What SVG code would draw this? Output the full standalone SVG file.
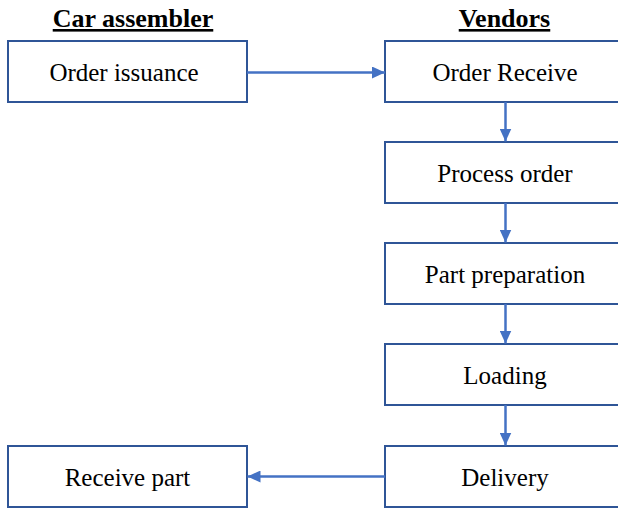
<svg xmlns="http://www.w3.org/2000/svg" width="618" height="508" viewBox="0 0 618 508">
<style>
.box{fill:#fff;stroke:#2F5597;stroke-width:2}
.lbl{font-family:"Liberation Serif","Times New Roman",serif;font-size:25px;fill:#000;text-anchor:middle}
.hdr{font-family:"Liberation Serif","Times New Roman",serif;font-size:26px;font-weight:bold;fill:#000;text-anchor:middle;text-decoration:underline}
.con{stroke:#4472C4;stroke-width:2.5;fill:none}
</style>
<defs>
<marker id="ah" markerUnits="userSpaceOnUse" markerWidth="14" markerHeight="12" refX="13" refY="6" orient="auto">
<path d="M0,0 L13,6 L0,12 Z" fill="#4472C4"/>
</marker>
</defs>
<rect width="618" height="508" fill="#fff"/>
<g id="headers">
<text class="hdr" x="133" y="27">Car assembler</text>
<text class="hdr" x="504.5" y="27">Vendors</text>
</g>
<g id="order-issuance"><rect class="box" x="8" y="41" width="239" height="61"/><text class="lbl" x="124" y="81">Order issuance</text></g>
<g id="order-receive"><rect class="box" x="385" y="41" width="240" height="61"/><text class="lbl" x="505" y="81">Order Receive</text></g>
<g id="process-order"><rect class="box" x="385" y="142" width="240" height="61"/><text class="lbl" x="505" y="182">Process order</text></g>
<g id="part-preparation"><rect class="box" x="385" y="243" width="240" height="61"/><text class="lbl" x="505" y="283">Part preparation</text></g>
<g id="loading"><rect class="box" x="385" y="344" width="240" height="61"/><text class="lbl" x="505" y="384">Loading</text></g>
<g id="delivery"><rect class="box" x="385" y="446" width="240" height="61"/><text class="lbl" x="505" y="486">Delivery</text></g>
<g id="receive-part"><rect class="box" x="8" y="446" width="239" height="61"/><text class="lbl" x="127.5" y="486">Receive part</text></g>
<g id="connectors">
<line class="con" x1="247" y1="72.5" x2="385" y2="72.5" marker-end="url(#ah)"/>
<line class="con" x1="505.5" y1="102" x2="505.5" y2="141.5" marker-end="url(#ah)"/>
<line class="con" x1="505.5" y1="203" x2="505.5" y2="242.5" marker-end="url(#ah)"/>
<line class="con" x1="505.5" y1="304" x2="505.5" y2="343.5" marker-end="url(#ah)"/>
<line class="con" x1="505.5" y1="405" x2="505.5" y2="445.5" marker-end="url(#ah)"/>
<line class="con" x1="385" y1="476.5" x2="247.5" y2="476.5" marker-end="url(#ah)"/>
</g>
</svg>
